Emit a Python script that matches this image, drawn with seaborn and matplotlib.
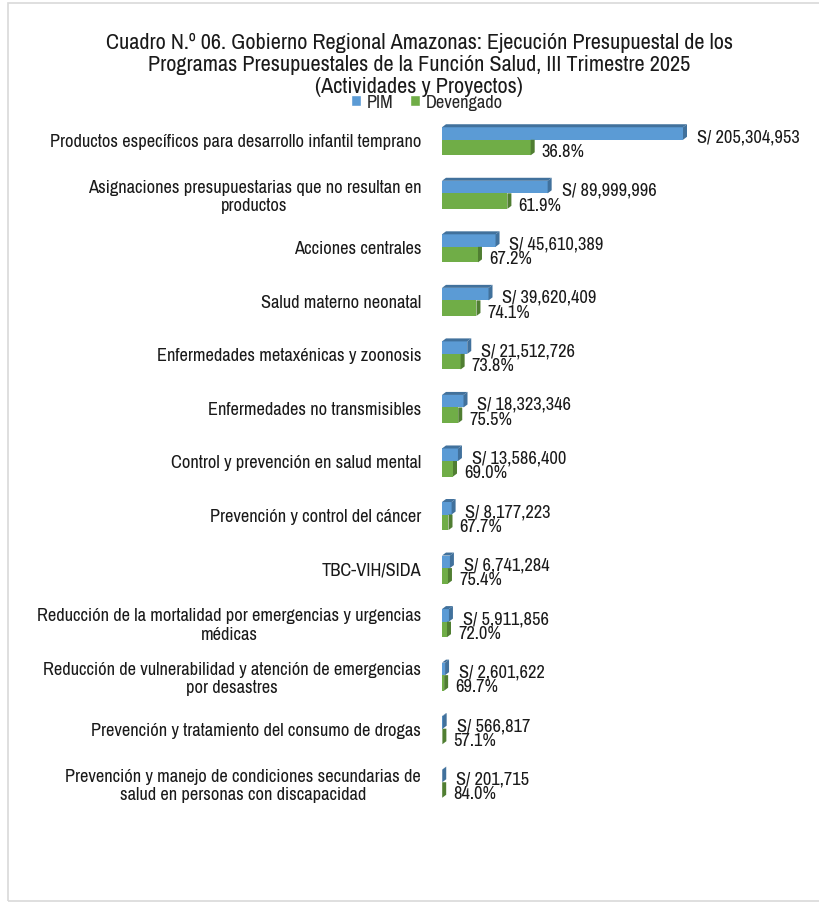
import pandas as pd
import seaborn as sns
import matplotlib.pyplot as plt
from matplotlib.patches import Polygon, Rectangle, Patch

programas = [
    'Productos específicos para desarrollo infantil temprano',
    'Asignaciones presupuestarias que no resultan en\nproductos',
    'Acciones centrales',
    'Salud materno neonatal',
    'Enfermedades metaxénicas y zoonosis',
    'Enfermedades no transmisibles',
    'Control y prevención en salud mental',
    'Prevención y control del cáncer',
    'TBC-VIH/SIDA',
    'Reducción de la mortalidad por emergencias y urgencias\nmédicas',
    'Reducción de vulnerabilidad y atención de emergencias\npor desastres',
    'Prevención y tratamiento del consumo de drogas',
    'Prevención y manejo de condiciones secundarias de\nsalud en personas con discapacidad',
]
pim = [205304953, 89999996, 45610389, 39620409, 21512726, 18323346, 13586400,
       8177223, 6741284, 5911856, 2601622, 566817, 201715]
avance = [36.8, 61.9, 67.2, 74.1, 73.8, 75.5, 69.0, 67.7, 75.4, 72.0, 69.7, 57.1, 84.0]
devengado = [p * a / 100 for p, a in zip(pim, avance)]

azul = '#5B9BD5'
azul_osc = '#41719C'
verde = '#70AD47'
verde_osc = '#507E32'

sns.set_style('white')
plt.rcParams['font.family'] = ['Archivo Narrow', 'Liberation Sans', 'DejaVu Sans']

df = pd.DataFrame({
    'programa': programas * 2,
    'monto': pim + devengado,
    'serie': ['PIM'] * len(pim) + ['Devengado'] * len(devengado),
})

fig = plt.figure(figsize=(8.19, 9.04), dpi=100)
ax = fig.add_axes([442 / 819, 1 - 810 / 904, 368 / 819, 696 / 904])

sns.barplot(data=df, y='programa', x='monto', hue='serie', orient='h',
            palette=[azul, verde], width=0.58, ax=ax, legend=False,
            saturation=1, linewidth=0)

xmax = 368 * 205304953 / 241
ax.set_xlim(0, xmax)
ax.set_ylim(len(programas) - 0.5, -0.5)

# efecto 3D: profundidad en pixeles convertida a datos
dx = 4 * xmax / 368
dy = 3 / 53.5

for bar in ax.containers[0]:
    x0 = bar.get_x()
    x1 = x0 + bar.get_width()
    yt = bar.get_y() + dy
    yb = bar.get_y() + bar.get_height()
    bar.set_y(yt)
    bar.set_height(yb - yt)
    ax.add_patch(Polygon([(x0, yt), (x0 + dx, yt - dy), (x1 + dx, yt - dy), (x1, yt)],
                         closed=True, facecolor=azul_osc, edgecolor='none', zorder=3))
    ax.add_patch(Polygon([(x1, yt), (x1 + dx, yt - dy), (x1 + dx, yb - dy), (x1, yb)],
                         closed=True, facecolor=azul_osc, edgecolor='none', zorder=3))
for bar in ax.containers[1]:
    x1 = bar.get_x() + bar.get_width()
    yt = bar.get_y()
    yb = yt + bar.get_height()
    ax.add_patch(Polygon([(x1, yt), (x1 + dx, yt), (x1 + dx, yb - dy), (x1, yb)],
                         closed=True, facecolor=verde_osc, edgecolor='none', zorder=3))

for bar, p in zip(ax.containers[0], pim):
    yc = bar.get_y() + bar.get_height() / 2
    ax.annotate(f'S/ {p:,.0f}', xy=(p, yc), xytext=(10, -2), textcoords='offset points',
                va='center', ha='left', fontsize=13.25, color='#1a1a1a')
for bar, d, a in zip(ax.containers[1], devengado, avance):
    yc = bar.get_y() + bar.get_height() / 2
    ax.annotate(f'{a:.1f}%', xy=(d, yc), xytext=(8, -2.5), textcoords='offset points',
                va='center', ha='left', fontsize=13.25, color='#1a1a1a')

ax.set_xlabel('')
ax.set_ylabel('')
ax.set_xticks([])
ax.tick_params(axis='y', length=0, pad=15, labelsize=13.25, labelcolor='#1a1a1a')
for lbl in ax.get_yticklabels():
    lbl.set_multialignment('center')
sns.despine(ax=ax, left=True, bottom=True)

fig.text(0.512, 1 - 65 / 904,
         'Cuadro N.º 06. Gobierno Regional Amazonas: Ejecución Presupuestal de los\n'
         'Programas Presupuestales de la Función Salud, III Trimestre 2025\n'
         '(Actividades y Proyectos)',
         ha='center', va='center', fontsize=16, linespacing=1.13, color='#1a1a1a')

handles = [Patch(facecolor=azul, label='PIM'), Patch(facecolor=verde, label='Devengado')]
fig.legend(handles=handles, loc='center', bbox_to_anchor=(0.521, 1 - 103 / 904), ncol=2,
           frameon=False, fontsize=13.25, handlelength=0.55, handleheight=0.55,
           handletextpad=0.3, columnspacing=0.9, borderpad=0)

fig.patches.append(Rectangle((8 / 819, 2 / 904), 1.0, 1 - 6 / 904, transform=fig.transFigure,
                             fill=False, edgecolor='#d9d9d9', linewidth=1.2, zorder=0))

fig.savefig('out.png', dpi=100)
